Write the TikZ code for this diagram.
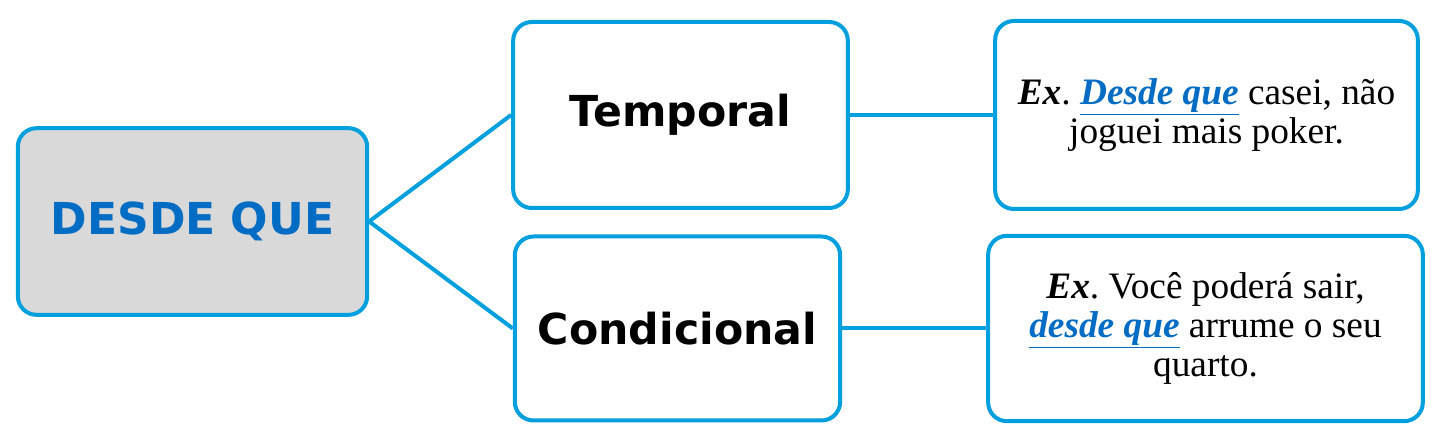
\documentclass[tikz,border=0pt]{standalone}
\usepackage{fontspec}
\setmainfont{Liberation Serif}
\newfontfamily\headfont{DejaVu Sans}
\definecolor{linkblue}{RGB}{0,160,222}
\definecolor{wordblue}{RGB}{0,108,196}
\definecolor{rootgray}{RGB}{217,217,217}
\frenchspacing
\tikzset{
    mapbox/.style={draw=linkblue, line width=3pt, rounded corners=14pt, fill=white, align=center, inner sep=0pt},
    rootbox/.style={mapbox, fill=rootgray, font=\headfont\bfseries\fontsize{33}{40}\selectfont, text=wordblue},
    kindbox/.style={mapbox, font=\headfont\bfseries\fontsize{32}{38}\selectfont},
    exbox/.style={mapbox, font=\fontsize{28}{29}\selectfont},
    link/.style={draw=linkblue, line width=3pt}
}
\newcommand{\keyword}[1]{\textcolor{wordblue}{\underline{\textbf{\textit{#1}}}}}
\begin{document}
\begin{tikzpicture}[x=0.75pt,y=-0.75pt]
    \useasboundingbox (0,0) rectangle (1440,441);
    \node[rootbox, minimum width=262pt, minimum height=140pt] (desde) at (192.5,221.5) {DESDE QUE};
    \node[kindbox, minimum width=251pt, minimum height=139.5pt] (temporal) at (680.5,115) {Temporal};
    \node[kindbox, minimum width=244pt, minimum height=138pt] (condicional) at (677.5,328.5) {Condicional};
    \node[exbox, minimum width=317pt, minimum height=141pt] (ex1) at (1206.5,115)
        {\textbf{\textit{Ex}}. \keyword{Desde que} casei, não\\joguei mais poker.};
    \node[exbox, minimum width=326pt, minimum height=139pt] (ex2) at (1205.5,328.5)
        {\textbf{\textit{Ex}}. Você poderá sair,\\\keyword{desde que} arrume o seu\\quarto.};
    % connectors
    \draw[link] (desde.east) -- (temporal.west);
    \draw[link] (desde.east) -- (condicional.west);
    \draw[link] (temporal.east) -- (ex1.west);
    \draw[link] (condicional.east) -- (ex2.west);
\end{tikzpicture}
\end{document}
